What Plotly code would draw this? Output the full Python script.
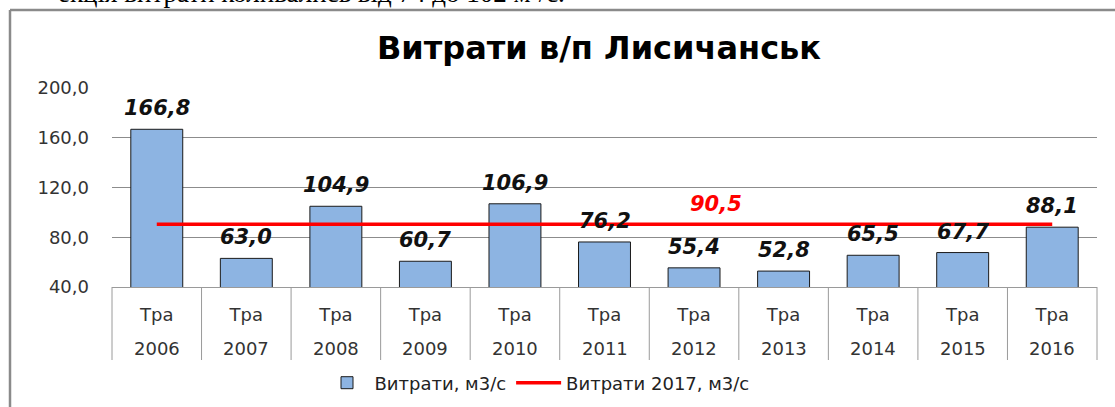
import plotly.graph_objects as go

# ---- data ----
months = ["Тра"] * 11
years = ["2006", "2007", "2008", "2009", "2010", "2011", "2012", "2013", "2014", "2015", "2016"]
flows = [166.8, 63.0, 104.9, 60.7, 106.9, 76.2, 55.4, 52.8, 65.5, 67.7, 88.1]
flow_2017 = [90.5] * 11
y_ticks = [40, 80, 120, 160, 200]
title_text = "Витрати в/п Лисичанськ"
series_names = ["Витрати, м3/с", "Витрати 2017, м3/с"]
top_text = "екція витрати коливались від 74 до 102 м³/с."

# ---- layout geometry (page pixels; page margin removed by post_script) ----
W, H = 1115, 407
L, R, T, B = 112, 1097, 88, 287
pw, ph = R - L, B - T

def px_x(px):
    return (px - L) / pw

def px_y(py):
    return (B - py) / ph

FONT = "DejaVu Sans"
fig = go.Figure()

fig.add_trace(go.Bar(
    x=years, y=flows, name=series_names[0], width=0.58,
    marker=dict(color="#8DB4E2", line=dict(color="#1a1a1a", width=1)),
))
fig.add_trace(go.Scatter(
    x=years, y=flow_2017, name=series_names[1], mode="lines",
    line=dict(color="#FF0000", width=3.5),
))

def fmt(v):
    return f"{v:.1f}".replace(".", ",")

annotations = []
for i, v in enumerate(flows):
    annotations.append(dict(
        x=i, y=v, xref="x", yref="y", text=fmt(v), showarrow=False,
        yanchor="bottom", yshift=7,
        font=dict(family=FONT, size=21, color="#111", weight="bold", style="italic"),
    ))
# label on the 2017 line (shown once, near 2012)
annotations.append(dict(
    x=6, y=flow_2017[6], xref="x", yref="y", text=fmt(flow_2017[6]),
    showarrow=False, yanchor="bottom", yshift=6, xshift=22,
    font=dict(family=FONT, size=21, color="#FF0000", weight="bold", style="italic"),
))
# year labels (second level of category axis)
for i, yr in enumerate(years):
    annotations.append(dict(
        x=i, y=px_y(348), xref="x", yref="paper", text=yr, showarrow=False,
        yanchor="middle",
        font=dict(family=FONT, size=18, color="#333"),
    ))
# cut-off page text above chart
annotations.append(dict(
    x=px_x(567), y=px_y(10), xref="paper", yref="paper", text=top_text,
    showarrow=False, xanchor="right", yanchor="bottom",
    font=dict(family="Liberation Serif", size=27, color="#000"),
))

shapes = []
n = len(years)
for i in range(n + 1):
    shapes.append(dict(
        type="line", xref="paper", yref="paper",
        x0=i / n, x1=i / n, y0=0, y1=px_y(360),
        line=dict(color="#9a9a9a", width=1),
    ))
# chart border (left and top)
shapes.append(dict(type="line", xref="paper", yref="paper",
                   x0=px_x(10), x1=px_x(10), y0=px_y(10), y1=px_y(420),
                   line=dict(color="#8a8a8a", width=2.5)))
shapes.append(dict(type="line", xref="paper", yref="paper",
                   x0=px_x(10), x1=px_x(1120), y0=px_y(10), y1=px_y(10),
                   line=dict(color="#8a8a8a", width=2.5)))

fig.update_layout(
    width=W, height=H,
    margin=dict(l=L, r=W - R, t=T, b=H - B, pad=0, autoexpand=False),
    paper_bgcolor="white", plot_bgcolor="white",
    separators=", ",
    showlegend=True,
    title=dict(
        text=title_text, x=px_x(599), xref="paper", xanchor="center",
        y=1 - 48 / H, yref="container", yanchor="middle",
        font=dict(family=FONT, size=32, color="#000", weight="bold"),
    ),
    legend=dict(
        orientation="h", x=px_x(537), xanchor="center",
        y=1 - 383 / H, yref="container", yanchor="middle",
        font=dict(family=FONT, size=18, color="#222"), itemwidth=45,
        bgcolor="rgba(0,0,0,0)", traceorder="normal",
    ),
    xaxis=dict(
        type="category", tickvals=years, ticktext=months, range=[-0.5, n - 0.5],
        showgrid=False, showline=True, linecolor="#9a9a9a", linewidth=1,
        ticks="", ticklabelstandoff=11, automargin=False,
        tickfont=dict(family=FONT, size=18, color="#333"),
    ),
    yaxis=dict(
        range=[40, 200], tickvals=y_ticks, tickformat=".1f",
        showgrid=True, gridcolor="#8c8c8c", gridwidth=1, zeroline=False,
        showline=False, ticks="", ticklabelstandoff=22, automargin=False,
        tickfont=dict(family=FONT, size=18, color="#333"),
    ),
    annotations=annotations, shapes=shapes,
)

fig.write_html(
    "out.html",
    config={"displayModeBar": False},
    post_script="document.body.style.margin='0';document.body.style.overflow='hidden';",
)
